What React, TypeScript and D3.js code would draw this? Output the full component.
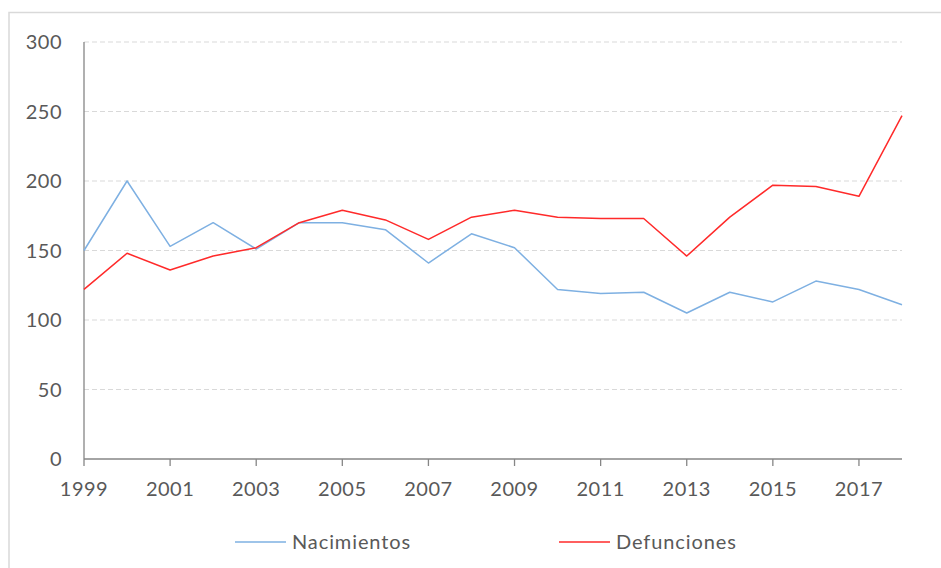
import * as d3 from 'd3'

const width = 941
const height = 568
const margin = { top: 42, right: 39, bottom: 109, left: 84 }

const years = [
  1999, 2000, 2001, 2002, 2003, 2004, 2005, 2006, 2007, 2008, 2009, 2010, 2011,
  2012, 2013, 2014, 2015, 2016, 2017, 2018,
]
const nacimientos = [
  150, 200, 153, 170, 151, 170, 170, 165, 141, 162, 152, 122, 119, 120, 105,
  120, 113, 128, 122, 111,
]
const defunciones = [
  122, 148, 136, 146, 152, 170, 179, 172, 158, 174, 179, 174, 173, 173, 146,
  174, 197, 196, 189, 247,
]
const xTicks = [1999, 2001, 2003, 2005, 2007, 2009, 2011, 2013, 2015, 2017]
const yTicks = [0, 50, 100, 150, 200, 250, 300]

const series = [
  { name: 'Nacimientos', values: nacimientos, color: '#7eb0e2' },
  { name: 'Defunciones', values: defunciones, color: '#ff2a2a' },
]

const font = 'Lato, "Open Sans", sans-serif'
const textColor = '#595959'

export default function App() {
  const x = d3
    .scaleLinear()
    .domain([1999, 2018])
    .range([margin.left, width - margin.right])
  const y = d3
    .scaleLinear()
    .domain([0, 300])
    .range([height - margin.bottom, margin.top])

  const line = d3
    .line<number>()
    .x((_, i) => x(years[i]))
    .y((d) => y(d))

  // legend entries start here
  const legendX = [235, 559]

  return (
    <svg
      width={width}
      height={height}
      style={{ position: 'absolute', left: 0, top: 0, background: '#fff' }}
    >
      <rect
        x={9}
        y={12.5}
        width={1000}
        height={1000}
        fill="#fff"
        stroke="#d9d9d9"
        strokeWidth={1.5}
      />
      {yTicks.slice(1).map((t) => (
        <line
          key={t}
          x1={x(1999)}
          x2={x(2018)}
          y1={y(t)}
          y2={y(t)}
          stroke="#d9d9d9"
          strokeWidth={1}
          strokeDasharray="5,3"
        />
      ))}
      {yTicks.map((t) => (
        <text
          key={t}
          x={62}
          y={y(t)}
          dy="0.36em"
          textAnchor="end"
          fontFamily={font}
          fontSize={20}
          letterSpacing={0.5}
          fill={textColor}
        >
          {t}
        </text>
      ))}
      <line
        x1={x(1999)}
        x2={x(1999)}
        y1={y(300)}
        y2={y(0)}
        stroke="#868686"
        strokeWidth={1.3}
      />
      <line
        x1={x(1999)}
        x2={x(2018)}
        y1={y(0)}
        y2={y(0)}
        stroke="#868686"
        strokeWidth={1.3}
      />
      {xTicks.map((t) => (
        <g key={t} transform={`translate(${x(t)},${y(0)})`}>
          <line y2={7} stroke="#868686" strokeWidth={1.3} />
          <text
            y={37}
            textAnchor="middle"
            fontFamily={font}
            fontSize={20}
            letterSpacing={0.5}
            fill={textColor}
          >
            {t}
          </text>
        </g>
      ))}
      {series.map((s) => (
        <path
          key={s.name}
          d={line(s.values) ?? ''}
          fill="none"
          stroke={s.color}
          strokeWidth={1.5}
          strokeLinejoin="round"
        />
      ))}
      {series.map((s, i) => (
        <g key={s.name} transform={`translate(${legendX[i]},542)`}>
          <line x2={51} stroke={s.color} strokeWidth={1.5} />
          <text
            x={57}
            dy="0.36em"
            fontFamily={font}
            fontSize={20}
            letterSpacing={0.9}
            fill={textColor}
          >
            {s.name}
          </text>
        </g>
      ))}
    </svg>
  )
}
